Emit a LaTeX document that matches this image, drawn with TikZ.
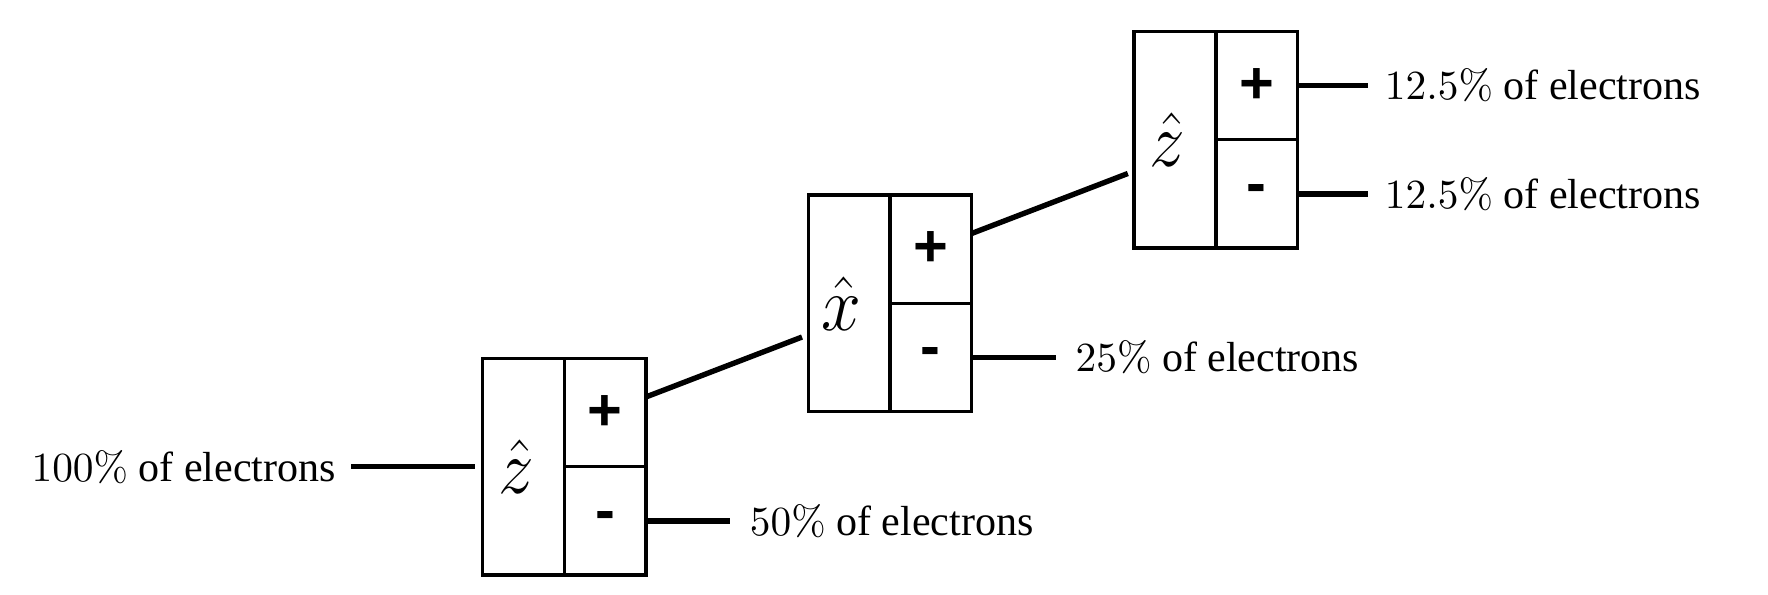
\documentclass[tikz,border=0pt]{standalone}
\usepackage[no-math]{fontspec}
\setmainfont{Liberation Serif}
\setsansfont{Liberation Sans}
\usetikzlibrary{positioning,fit}

\newcommand{\axislbl}[1]{\scalebox{1}[1.08]{$\hat{#1}$}\kern3.5pt}

\tikzset{
  axiscell/.style={draw, line width=0.8pt, outer sep=0pt, inner sep=0pt,
    minimum width=19.75pt, minimum height=52.3pt, font=\LARGE},
  spincell/.style={draw, line width=0.8pt, outer sep=0pt, inner sep=0pt,
    minimum width=19.75pt, minimum height=26.15pt, font=\sffamily\bfseries\Large},
  beam/.style={line width=1.3pt},
  outlbl/.style={inner sep=4.6pt, font=\fontsize{10.15pt}{12pt}\selectfont},
}

\begin{document}
\begin{tikzpicture}
  \useasboundingbox (0,0) rectangle (427.05pt,-143.72pt);

  % first analyser (z)
  \node[axiscell] (zA) at (126.4pt,-112.75pt) {\axislbl{z}};
  \node[spincell, anchor=north west] (zAp) at (zA.north east) {+};
  \node[spincell, anchor=north west] (zAm) at (zAp.south west) {-};

  % second analyser (x)
  \node[axiscell] (xB) at (205.1pt,-73.25pt) {\axislbl{x}};
  \node[spincell, anchor=north west] (xBp) at (xB.north east) {+};
  \node[spincell, anchor=north west] (xBm) at (xBp.south west) {-};
  \node[fit=(xB)(xBp)(xBm), inner sep=0pt] (boxB) {};

  % third analyser (z)
  \node[axiscell] (zC) at (283.8pt,-33.75pt) {\axislbl{z}};
  \node[spincell, anchor=north west] (zCp) at (zC.north east) {+};
  \node[spincell, anchor=north west] (zCm) at (zCp.south west) {-};
  \node[fit=(zC)(zCp)(zCm), inner sep=0pt] (boxC) {};

  % labels
  \node[outlbl, inner sep=3.5pt, left=31.7pt of zA] (inA) {$100\%$ of electrons};
  \node[outlbl, right=20.3pt of zAm] (outAm) {$50\%$ of electrons};
  \node[outlbl, right=20.3pt of xBm] (outBm) {$25\%$ of electrons};
  \node[outlbl, inner sep=3.9pt, right=17pt of zCp] (outCp) {$12.5\%$ of electrons};
  \node[outlbl, inner sep=3.9pt, right=17pt of zCm] (outCm) {$12.5\%$ of electrons};

  % beams
  \draw[beam, shorten >=1.7pt] (inA) -- (zA);
  \draw[beam, shorten >=1.4pt] (zAp) -- (boxB);
  \draw[beam, shorten >=1.4pt] (xBp) -- (boxC);
  \draw[beam] (zAm) -- (outAm);
  \draw[beam] (xBm) -- (outBm);
  \draw[beam] (zCp) -- (outCp);
  \draw[beam] (zCm) -- (outCm);
\end{tikzpicture}
\end{document}
